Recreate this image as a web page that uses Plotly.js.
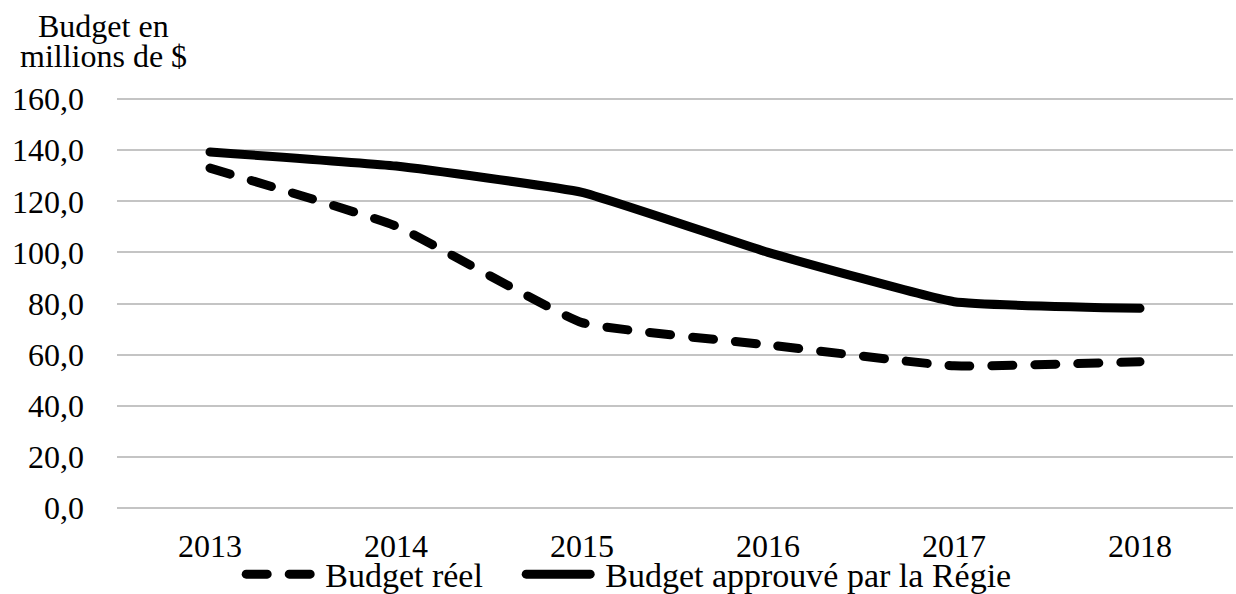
<!DOCTYPE html>
<html>
<head>
<meta charset="utf-8">
<script src="https://cdn.plot.ly/plotly-3.0.1.min.js"></script>
<style>
html,body{margin:0;padding:0;background:#fff;}
.scatterlayer .js-line, .legendlines path { stroke-linecap: round; stroke-linejoin: round; }
</style>
</head>
<body>
<div id="chart" style="width:1236px;height:594px;"></div>
<script>
const years = ['2013', '2014', '2015', '2016', '2017', '2018'];
const budgetReel = [133.0, 110.3, 72.5, 63.8, 55.6, 57.2];
const budgetApprouve = [139.3, 133.8, 123.5, 100.0, 80.7, 78.1];
const yTicks = [0, 20, 40, 60, 80, 100, 120, 140, 160];
const seriesNames = ['Budget réel', 'Budget approuvé par la Régie'];
const yTitleLines = ['Budget en', 'millions de $'];

const FONT = 'Liberation Serif';

const traces = [
  {
    x: years, y: budgetReel, name: seriesNames[0], type: 'scatter', mode: 'lines',
    legend: 'legend',
    line: {color: '#000000', width: 9, dash: '21px,22px', shape: 'spline', smoothing: 0.35}
  },
  {
    x: years, y: budgetApprouve, name: seriesNames[1], type: 'scatter', mode: 'lines',
    legend: 'legend2',
    line: {color: '#000000', width: 9, shape: 'spline', smoothing: 0.35}
  }
];

function legendStyle(xPos) {
  return {
    orientation: 'h', x: xPos, xanchor: 'left', y: -0.147, yanchor: 'middle',
    font: {family: FONT, size: 34, color: '#000000'},
    itemwidth: 76, bgcolor: 'rgba(0,0,0,0)', borderwidth: 0
  };
}

const layout = {
  width: 1236, height: 594,
  margin: {l: 117, r: 3, t: 94, b: 81, pad: 0, autoexpand: false},
  paper_bgcolor: '#ffffff', plot_bgcolor: '#ffffff',
  font: {family: FONT, size: 32, color: '#000000'},
  showlegend: true,
  legend: legendStyle(0.1095),
  legend2: legendStyle(0.3604),
  xaxis: {
    type: 'category', categoryorder: 'array', categoryarray: years,
    range: [-0.5, 5.5], showgrid: false, zeroline: false, showline: false,
    ticks: '', ticklabelstandoff: 11,
    tickfont: {family: FONT, size: 32, color: '#000000'}
  },
  yaxis: {
    range: [-2, 162], tickmode: 'array', tickvals: yTicks,
    tickformat: '.1f', showgrid: true, gridcolor: '#c4c4c4', gridwidth: 2,
    zeroline: false, showline: false, ticks: '', ticklabelstandoff: 32,
    tickfont: {family: FONT, size: 32, color: '#000000'}
  },
  separators: ', ',
  annotations: [
    {xref: 'paper', yref: 'paper', x: -0.0125, y: 1.163, xanchor: 'center', yanchor: 'middle',
     text: yTitleLines[0], showarrow: false, font: {family: FONT, size: 32, color: '#000000'}},
    {xref: 'paper', yref: 'paper', x: -0.0125, y: 1.0916, xanchor: 'center', yanchor: 'middle',
     text: yTitleLines[1], showarrow: false, font: {family: FONT, size: 32, color: '#000000'}}
  ]
};

Plotly.newPlot('chart', traces, layout, {staticPlot: true, displayModeBar: false}).then(function(gd){
  gd.querySelectorAll('.legendlines path').forEach(function(p){ p.setAttribute('d', 'M7,0h64'); });
});
</script>
</body>
</html>
